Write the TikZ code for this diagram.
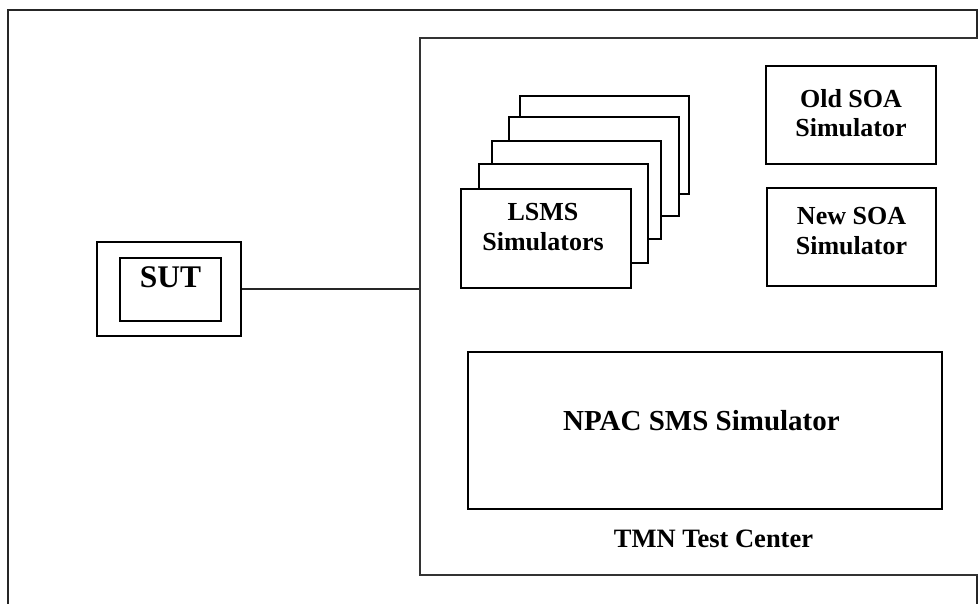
\documentclass[tikz,border=0pt]{standalone}
\usepackage{fontspec}
\setmainfont{Liberation Serif}
\begin{document}
\begin{tikzpicture}[x=1pt,y=-1pt,
  frameline/.style={draw=black!85, line width=1.4pt},
  tmnbox/.style={draw=black!80, line width=1.1pt, fill=white, rectangle, inner sep=0pt},
  simbox/.style={draw=black, line width=1.9pt, fill=white, rectangle, inner sep=0pt},
  lbl/.style={inner sep=0pt, font=\bfseries},
]
\clip (0,0) rectangle (978,603);
\useasboundingbox (0,0) rectangle (978,603);
% outer frame (extends beyond bottom edge)
\draw[frameline] (8,10) rectangle (977,650);
% TMN Test Center box (extends beyond right edge)
\node[tmnbox, minimum width=580pt, minimum height=537pt] (tmn) at (710,306.5) {};
% SUT
\node[simbox, line width=1.6pt, minimum width=144pt, minimum height=94pt] (sutout) at (169,289) {};
\node[simbox, line width=1.4pt, minimum width=101pt, minimum height=63pt] (sutin) at (170.5,289.5) {};
\node[lbl, anchor=base, font=\bfseries\fontsize{31.5}{36}\selectfont] (sutlbl) at (170.5,287) {SUT};
% connector
\draw[line width=1.3pt, draw=black!85] (sutout.east) -- (sutout.east -| tmn.west);
% LSMS stack
\node[simbox, minimum width=169pt, minimum height=98pt] (ls5) at (604.5,145) {};
\node[simbox, minimum width=170pt, minimum height=99pt] (ls4) at (594,166.5) {};
\node[simbox, minimum width=169pt, minimum height=98pt] (ls3) at (576.5,190) {};
\node[simbox, minimum width=169pt, minimum height=99pt] (ls2) at (563.5,213.5) {};
\node[simbox, minimum width=170pt, minimum height=99pt] (ls1) at (546,238.5) {};
\node[lbl, anchor=north, align=center, font=\bfseries\fontsize{26}{30}\selectfont] (lslbl) at (543,202.7) {LSMS\\Simulators};
% SOA simulators
\node[simbox, minimum width=170pt, minimum height=98pt] (old) at (851,115) {};
\node[lbl, anchor=north, align=center, font=\bfseries\fontsize{26}{29.5}\selectfont] (oldlbl) at (851,89) {Old SOA\\Simulator};
\node[simbox, minimum width=169pt, minimum height=98pt] (new) at (851.5,237) {};
\node[lbl, anchor=north, align=center, font=\bfseries\fontsize{26}{29.5}\selectfont] (newlbl) at (851.5,207.5) {New SOA\\Simulator};
% NPAC
\node[simbox, minimum width=474pt, minimum height=157pt] (npac) at (705,430.5) {};
\node[lbl, anchor=base, font=\bfseries\fontsize{29}{34}\selectfont] (npaclbl) at (701.5,430) {NPAC SMS Simulator};
% TMN label
\node[lbl, anchor=base, font=\bfseries\fontsize{26.5}{31}\selectfont] (tmnlbl) at (713.5,547) {TMN Test Center};
\end{tikzpicture}
\end{document}
